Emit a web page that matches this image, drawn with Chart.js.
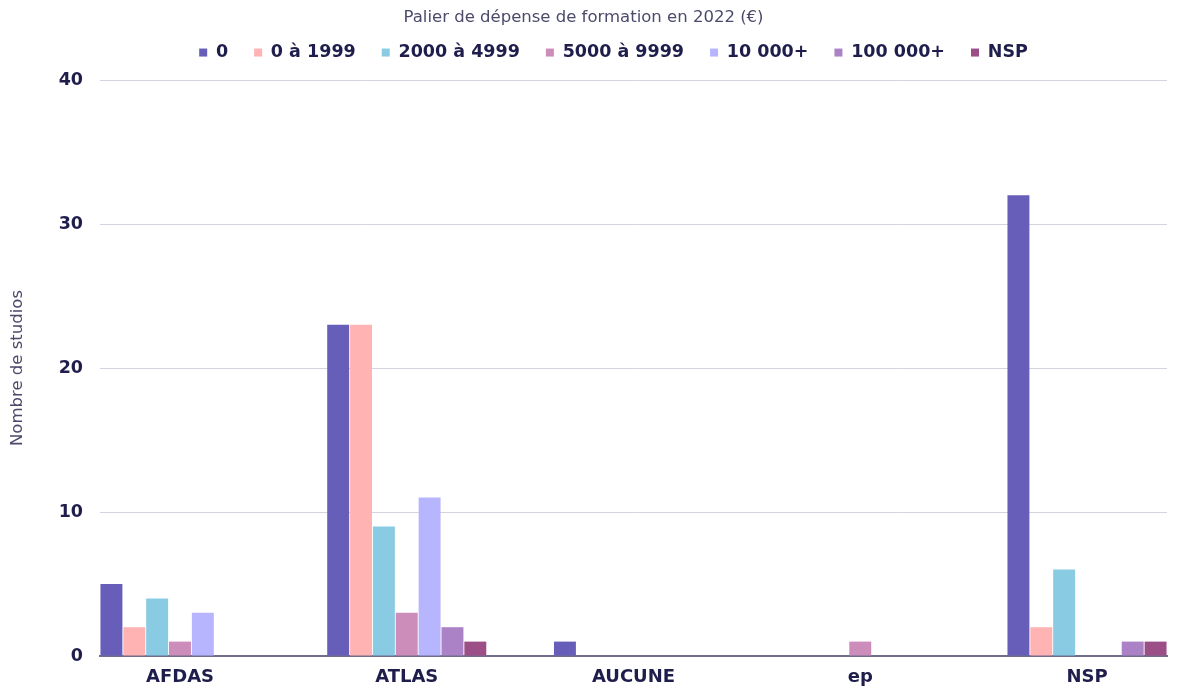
<!DOCTYPE html>
<html><head><meta charset="utf-8">
<script src="https://cdn.jsdelivr.net/npm/chart.js@4.4.0/dist/chart.umd.min.js"></script>
<style>html,body{margin:0;padding:0;background:#fff;overflow:hidden}#wrap{width:1177px;height:691px;position:relative}</style>
</head><body><div id="wrap"><canvas id="c"></canvas></div>
<script>
const categories = ['AFDAS', 'ATLAS', 'AUCUNE', 'ep', 'NSP'];
const seriesNames = ['0', '0 à 1999', '2000 à 4999', '5000 à 9999', '10 000+', '100 000+', 'NSP'];
const palier0 = [5, 23, 1, 0, 32];
const palier1999 = [2, 23, 0, 0, 2];
const palier4999 = [4, 9, 0, 0, 6];
const palier9999 = [1, 3, 0, 1, 0];
const palier10k = [3, 11, 0, 0, 0];
const palier100k = [0, 2, 0, 0, 1];
const palierNSP = [0, 1, 0, 0, 1];
const yTicks = [0, 10, 20, 30, 40];
const seriesValues = [palier0, palier1999, palier4999, palier9999, palier10k, palier100k, palierNSP];
const seriesColors = ['#665EB8', '#FFB3B3', '#88CBE3', '#CD8DBA', '#B8B5FF', '#AC82C6', '#9C4F86'];

const FONT = "'DejaVu Sans', sans-serif";
const catPct = 0.7056;

const legendFitPlugin = {
  id: 'legendFit',
  beforeInit(chart) {
    const lg = chart.legend;
    if (!lg) return;
    const origFit = lg.fit.bind(lg);
    lg.fit = function () {
      origFit();
      this.height = 78;
      if (this.lineWidths && this.lineWidths.length) this.lineWidths[0] -= 60;
    };
  }
};

new Chart(document.getElementById('c'), {
  type: 'bar',
  data: {
    datasets: seriesNames.map((name, k) => ({
      label: name,
      data: seriesValues[k].map((v, i) => ({ x: i, y: v })),
      backgroundColor: seriesColors[k],
      borderWidth: 0,
      categoryPercentage: catPct,
      barPercentage: 0.96
    }))
  },
  plugins: [legendFitPlugin],
  options: {
    responsive: true,
    maintainAspectRatio: false,
    animation: false,
    layout: { padding: { left: 0, right: 10, top: 2, bottom: 0 } },
    plugins: {
      tooltip: { enabled: false },
      legend: {
        position: 'top',
        title: {
          display: true,
          text: 'Palier de dépense de formation en 2022 (€)',
          color: '#4b4a6b',
          font: { family: FONT, size: 16.5, weight: 'normal' },
          padding: { top: 7, bottom: -11 }
        },
        labels: {
          boxWidth: 8,
          boxHeight: 8,
          padding: 26,
          color: '#1f1d4b',
          font: { family: FONT, size: 17.5, weight: 'bold' }
        }
      }
    },
    scales: {
      x: {
        type: 'linear',
        offset: false,
        min: -catPct / 2,
        max: categories.length - 1 + catPct / 2,
        afterBuildTicks: (scale) => { scale.ticks = categories.map((c, i) => ({ value: i })); },
        afterFit: (scale) => { scale.height = 35; },
        grid: { display: false, drawTicks: false },
        border: { display: true, color: '#6f6e8e', width: 2 },
        ticks: {
          autoSkip: false,
          maxRotation: 0,
          padding: 11,
          color: '#1f1d4b',
          font: { family: FONT, size: 18, weight: 'bold' },
          callback: (v) => categories[v]
        }
      },
      y: {
        min: yTicks[0],
        max: yTicks[yTicks.length - 1],
        afterBuildTicks: (scale) => { scale.ticks = yTicks.map(v => ({ value: v })); },
        afterFit: (scale) => { scale.width = 100; },
        grid: { color: '#d4d3df', lineWidth: 1, drawTicks: false },
        border: { display: false },
        ticks: {
          padding: 17,
          color: '#1f1d4b',
          font: { family: FONT, size: 17.5, weight: 'bold' }
        },
        title: {
          display: true,
          text: 'Nombre de studios',
          color: '#4b4a6b',
          font: { family: FONT, size: 16.5, weight: 'normal' },
          padding: { top: 8, bottom: 0 }
        }
      }
    }
  }
});
</script>
</body></html>
